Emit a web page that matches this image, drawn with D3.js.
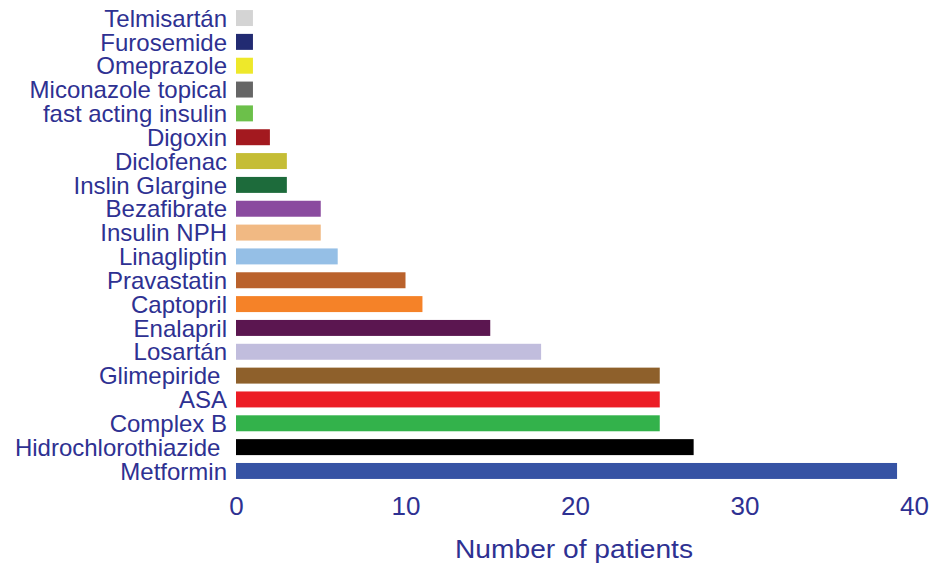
<!DOCTYPE html>
<html>
<head>
<meta charset="utf-8">
<script src="https://cdn.jsdelivr.net/npm/d3@7"></script>
<style>
  body { margin: 0; background: #fff; }
  text { font-family: "Liberation Sans", Arial, sans-serif; fill: #2e3192; }
</style>
</head>
<body>
<svg id="chart" width="941" height="571"></svg>
<script>
// drugs, top to bottom
var drugs = ["Telmisartán", "Furosemide", "Omeprazole", "Miconazole topical", "fast acting insulin",
  "Digoxin", "Diclofenac", "Inslin Glargine", "Bezafibrate", "Insulin NPH", "Linagliptin",
  "Pravastatin", "Captopril", "Enalapril", "Losartán", "Glimepiride ", "ASA", "Complex B",
  "Hidrochlorothiazide ", "Metformin"];
var patients = [1, 1, 1, 1, 1, 2, 3, 3, 5, 5, 6, 10, 11, 15, 18, 25, 25, 25, 27, 39];
var colors = ["#d4d4d4", "#222b72", "#eee82a", "#666666", "#6cc04a", "#a3191f", "#c5bd35",
  "#1d6b3b", "#8a4b9f", "#f1b983", "#95bfe6", "#ba622c", "#f58228", "#5b1650", "#c1bddd",
  "#8e602b", "#ec1d25", "#33b24b", "#000000", "#3653a4"];
var xTicks = [0, 10, 20, 30, 40];

var svg = d3.select("#chart");

var x = d3.scaleLinear().domain([0, 40]).range([236, 914]);
var y = d3.scaleBand().domain(drugs).range([6, 483]).paddingInner(0.33).paddingOuter(0.17);

// bars
svg.selectAll("rect.bar")
  .data(drugs)
  .enter().append("rect")
  .attr("class", "bar")
  .attr("x", x(0))
  .attr("y", function (d) { return y(d); })
  .attr("width", function (d, i) { return x(patients[i]) - x(0); })
  .attr("height", y.bandwidth())
  .attr("fill", function (d, i) { return colors[i]; });

// category labels
svg.selectAll("text.cat")
  .data(drugs)
  .enter().append("text")
  .attr("class", "cat")
  .attr("x", 227)
  .attr("y", function (d) { return y(d) + y.bandwidth() / 2; })
  .attr("dy", "0.36em")
  .attr("text-anchor", "end")
  .style("white-space", "pre")
  .style("font-size", "24px")
  .text(function (d) { return d; });

// x axis, no line, no ticks
var xAxis = svg.append("g")
  .attr("transform", "translate(0,497)")
  .call(d3.axisBottom(x).tickValues(xTicks).tickSize(0).tickPadding(0));
xAxis.select(".domain").remove();
xAxis.selectAll("text")
  .attr("dy", "0.71em")
  .style("font-size", "26px")
  .style("font-family", "'Liberation Sans', Arial, sans-serif")
  .attr("fill", "#2e3192");

svg.append("text")
  .attr("x", 574)
  .attr("y", 558)
  .attr("text-anchor", "middle")
  .attr("textLength", 238)
  .attr("lengthAdjust", "spacingAndGlyphs")
  .style("font-size", "25px")
  .text("Number of patients");
</script>
</body>
</html>
